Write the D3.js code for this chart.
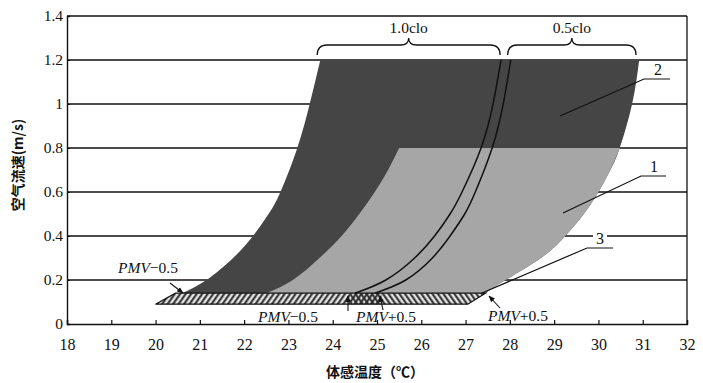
<!DOCTYPE html>
<html>
<head>
<meta charset="utf-8">
<script src="https://cdn.jsdelivr.net/npm/d3@7/dist/d3.min.js"></script>
<style>
  html, body { margin: 0; padding: 0; background: #fff; }
  svg { display: block; }
</style>
</head>
<body>
<svg id="chart" width="703" height="383"></svg>
<script>
// ---------- data ----------
const xTickValues = [18, 19, 20, 21, 22, 23, 24, 25, 26, 27, 28, 29, 30, 31, 32];
const yTickValues = [0, 0.2, 0.4, 0.6, 0.8, 1.0, 1.2, 1.4];
const yTickLabels = ["0", "0.2", "0.4", "0.6", "0.8", "1", "1.2", "1.4"];
const gridValues = [0.2, 0.4, 0.6, 0.8, 1.0, 1.2];

// 1.0clo, PMV-0.5 (left boundary of region 2)
const left10V = [0.14, 0.2, 0.3, 0.4, 0.5, 0.6, 0.8, 1.0, 1.2];
const left10T = [20.6, 21.15, 21.75, 22.2, 22.55, 22.82, 23.2, 23.48, 23.72];
// left boundary of region 1 (0.8 m/s limit)
const left08V = [0.14, 0.2, 0.3, 0.4, 0.5, 0.6, 0.7, 0.8];
const left08T = [22.5, 23.1, 23.7, 24.2, 24.6, 24.95, 25.25, 25.5];
// 1.0clo, PMV+0.5 (double line, left)
const plus10V = [0.14, 0.2, 0.3, 0.4, 0.5, 0.6, 0.8, 1.0, 1.2];
const plus10T = [24.5, 25.2, 25.85, 26.3, 26.65, 26.92, 27.35, 27.62, 27.8];
// 0.5clo, PMV-0.5 (double line, right)
const minus05V = [0.14, 0.2, 0.3, 0.4, 0.5, 0.6, 0.8, 1.0, 1.2];
const minus05T = [24.95, 25.65, 26.25, 26.65, 26.98, 27.22, 27.6, 27.85, 28.02];
// 0.5clo, PMV+0.5 (right boundary)
const right05V = [0.14, 0.2, 0.3, 0.4, 0.5, 0.6, 0.7, 0.8, 1.0, 1.2];
const right05T = [27.45, 27.9, 28.7, 29.25, 29.67, 30.0, 30.27, 30.48, 30.76, 30.92];

// still-air strip (region 3)
const stripV = [0.09, 0.14];
const strip10T = [20.0, 20.45, 25.1];   // bottom-left, top-left, right end
const strip05T = [24.4, 27.05, 27.45];  // left end, bottom-right, top-right

const regionLimits = [0.8, 1.2];

// ---------- layout ----------
const svg = d3.select("#chart");
const x = d3.scaleLinear().domain([18, 32]).range([67, 687]);
const y = d3.scaleLinear().domain([0, 1.4]).range([324, 16]);
const serif = "'Liberation Serif', 'Times New Roman', serif";
const cjk = "'Noto Sans CJK SC', sans-serif";

const defs = svg.append("defs");
function hatch(id, angle) {
  const p = defs.append("pattern").attr("id", id).attr("patternUnits", "userSpaceOnUse")
    .attr("width", 4.5).attr("height", 4.5).attr("patternTransform", `rotate(${angle})`);
  p.append("line").attr("x1", 1.2).attr("x2", 1.2).attr("y1", 0).attr("y2", 4.5)
    .attr("stroke", "#2a2a2a").attr("stroke-width", 2);
}
hatch("h1", 35);
hatch("h2", -35);

// grid lines
svg.append("g").selectAll("line").data(gridValues).join("line")
  .attr("x1", x(18)).attr("x2", x(32))
  .attr("y1", d => y(d)).attr("y2", d => y(d))
  .attr("stroke", "#111").attr("stroke-width", 1.4);

function seg(ts, vs, reverse, maxV) {
  let pts = ts.map((t, i) => [t, vs[i]]).filter(p => maxV === undefined || p[1] <= maxV + 1e-9)
    .map(p => [x(p[0]), y(p[1])]);
  if (reverse) pts.reverse();
  return d3.line().curve(d3.curveNatural)(pts);
}

// region 2 (dark)
svg.append("path")
  .attr("d", seg(left10T, left10V) + seg(right05T, right05V, true).replace(/^M/, "L") + "Z")
  .attr("fill", "#454545");
// region 1 (light)
svg.append("path")
  .attr("d", seg(left08T, left08V) + seg(right05T, right05V, true, regionLimits[0]).replace(/^M/, "L") + "Z")
  .attr("fill", "#a6a6a6");

// strip (region 3)
const stripOuter = [[strip10T[0], stripV[0]], [strip10T[1], stripV[1]], [strip05T[2], stripV[1]], [strip05T[1], stripV[0]]];
const polyLine = d3.line().x(d => x(d[0])).y(d => y(d[1]));
svg.append("path").attr("d", polyLine(stripOuter) + "Z").attr("fill", "#e4e4e4");
const strip10 = [[strip10T[0], stripV[0]], [strip10T[1], stripV[1]], [strip10T[2], stripV[1]], [strip10T[2], stripV[0]]];
const strip05 = [[strip05T[0], stripV[0]], [strip05T[0], stripV[1]], [strip05T[2], stripV[1]], [strip05T[1], stripV[0]]];
svg.append("path").attr("d", polyLine(strip10) + "Z").attr("fill", "url(#h1)");
svg.append("path").attr("d", polyLine(strip05) + "Z").attr("fill", "url(#h2)");
svg.append("path").attr("d", polyLine(stripOuter) + "Z").attr("fill", "none")
  .attr("stroke", "#111").attr("stroke-width", 1.3);

// double lines
[[plus10T, plus10V], [minus05T, minus05V]].forEach(([t, v]) => {
  svg.append("path").attr("d", seg(t, v)).attr("fill", "none")
    .attr("stroke", "#111").attr("stroke-width", 1.5);
});

// frame: top and right
svg.append("line").attr("x1", x(18)).attr("x2", x(32)).attr("y1", y(1.4)).attr("y2", y(1.4))
  .attr("stroke", "#111").attr("stroke-width", 1.3);
svg.append("line").attr("x1", x(32)).attr("x2", x(32)).attr("y1", y(1.4)).attr("y2", y(0))
  .attr("stroke", "#111").attr("stroke-width", 1.3);

// axes
const xAxis = d3.axisBottom(x).tickValues(xTickValues).tickSize(-4).tickPadding(15).tickFormat(d3.format("d"));
const gx = svg.append("g").attr("transform", `translate(0,${y(0)})`).call(xAxis);
gx.select(".domain").attr("stroke", "#111").attr("stroke-width", 1.4);
gx.selectAll(".tick line").attr("stroke", "#111").attr("stroke-width", 1.2);
gx.selectAll("text").attr("font-family", serif).attr("font-size", 16).attr("fill", "#111");

const yAxis = d3.axisLeft(y).tickValues(yTickValues).tickSize(-3).tickPadding(4)
  .tickFormat((d, i) => yTickLabels[i]);
const gy = svg.append("g").attr("transform", `translate(${x(18)},0)`).call(yAxis);
gy.select(".domain").attr("stroke", "#111").attr("stroke-width", 1.4);
gy.selectAll(".tick line").attr("stroke", "#111");
gy.selectAll("text").attr("font-family", serif).attr("font-size", 15.5).attr("fill", "#111");

// axis titles
svg.append("text").attr("x", 375).attr("y", 377).attr("text-anchor", "middle")
  .attr("font-family", cjk).attr("font-weight", "bold").attr("font-size", 14).attr("fill", "#111")
  .text("体感温度（℃）");
svg.append("text").attr("transform", "translate(23,165) rotate(-90)").attr("text-anchor", "middle")
  .attr("font-family", cjk).attr("font-weight", "bold").attr("font-size", 14).attr("fill", "#111")
  .text("空气流速(m/s)");

// braces
function brace(x0, x1, yb, yt, ytip) {
  const m = (x0 + x1) / 2;
  return `M${x0},${yb} Q${x0},${yt} ${x0 + 10},${yt} L${m - 8},${yt} Q${m},${yt} ${m},${ytip} ` +
         `Q${m},${yt} ${m + 8},${yt} L${x1 - 10},${yt} Q${x1},${yt} ${x1},${yb}`;
}
svg.append("path").attr("d", brace(x(23.65), x(27.78), 55, 45, 38))
  .attr("fill", "none").attr("stroke", "#111").attr("stroke-width", 1.3);
svg.append("path").attr("d", brace(x(27.95), x(30.85), 55, 45, 38))
  .attr("fill", "none").attr("stroke", "#111").attr("stroke-width", 1.3);
svg.append("text").attr("x", (x(23.65) + x(27.78)) / 2).attr("y", 33).attr("text-anchor", "middle")
  .attr("font-family", serif).attr("font-size", 15.5).attr("fill", "#111").text("1.0clo");
svg.append("text").attr("x", (x(27.95) + x(30.85)) / 2).attr("y", 33).attr("text-anchor", "middle")
  .attr("font-family", serif).attr("font-size", 15.5).attr("fill", "#111").text("0.5clo");

// region labels with leaders
function label(txt, tx, ty, ux0, ux1, uy, lx, ly, bg) {
  if (bg) svg.append("rect").attr("x", tx - 7).attr("y", ty - 12).attr("width", 14).attr("height", 15).attr("fill", "#fff");
  svg.append("text").attr("x", tx).attr("y", ty).attr("text-anchor", "middle")
    .attr("font-family", serif).attr("font-size", 16).attr("fill", "#111").text(txt);
  svg.append("path").attr("d", `M${ux1},${uy} L${ux0},${uy} L${lx},${ly}`)
    .attr("fill", "none").attr("stroke", "#111").attr("stroke-width", 1.2);
}
label("2", 658, 75, 644, 670, 79, 560, 116, false);
label("1", 654, 172, 641, 666, 176, 563, 213, false);
label("3", 600, 244, 587, 613, 248, 482, 293, true);

// PMV labels
function pmv(txt, tx, ty, anchor) {
  const t = svg.append("text").attr("x", tx).attr("y", ty).attr("text-anchor", anchor || "start")
    .attr("font-family", serif).attr("font-size", 15.5).attr("fill", "#111");
  t.append("tspan").attr("font-style", "italic").text("PMV");
  t.append("tspan").text(txt);
}
pmv("−0.5", 118, 273);
pmv("−0.5", 258, 322);
pmv("+0.5", 356, 322);
pmv("+0.5", 488, 321);

// leaders / arrows for PMV labels
defs.append("marker").attr("id", "arr").attr("viewBox", "0 0 10 10").attr("refX", 9).attr("refY", 5)
  .attr("markerWidth", 6).attr("markerHeight", 6).attr("orient", "auto")
  .append("path").attr("d", "M0,1 L10,5 L0,9 Z").attr("fill", "#111");
const arrows = [[170, 283, 183, 293], [348, 311, 348, 296], [383, 310, 380, 296], [500, 308, 489, 296]];
svg.append("g").selectAll("line").data(arrows).join("line")
  .attr("x1", d => d[0]).attr("y1", d => d[1]).attr("x2", d => d[2]).attr("y2", d => d[3])
  .attr("stroke", "#111").attr("stroke-width", 1.1).attr("marker-end", "url(#arr)");
</script>
</body>
</html>
